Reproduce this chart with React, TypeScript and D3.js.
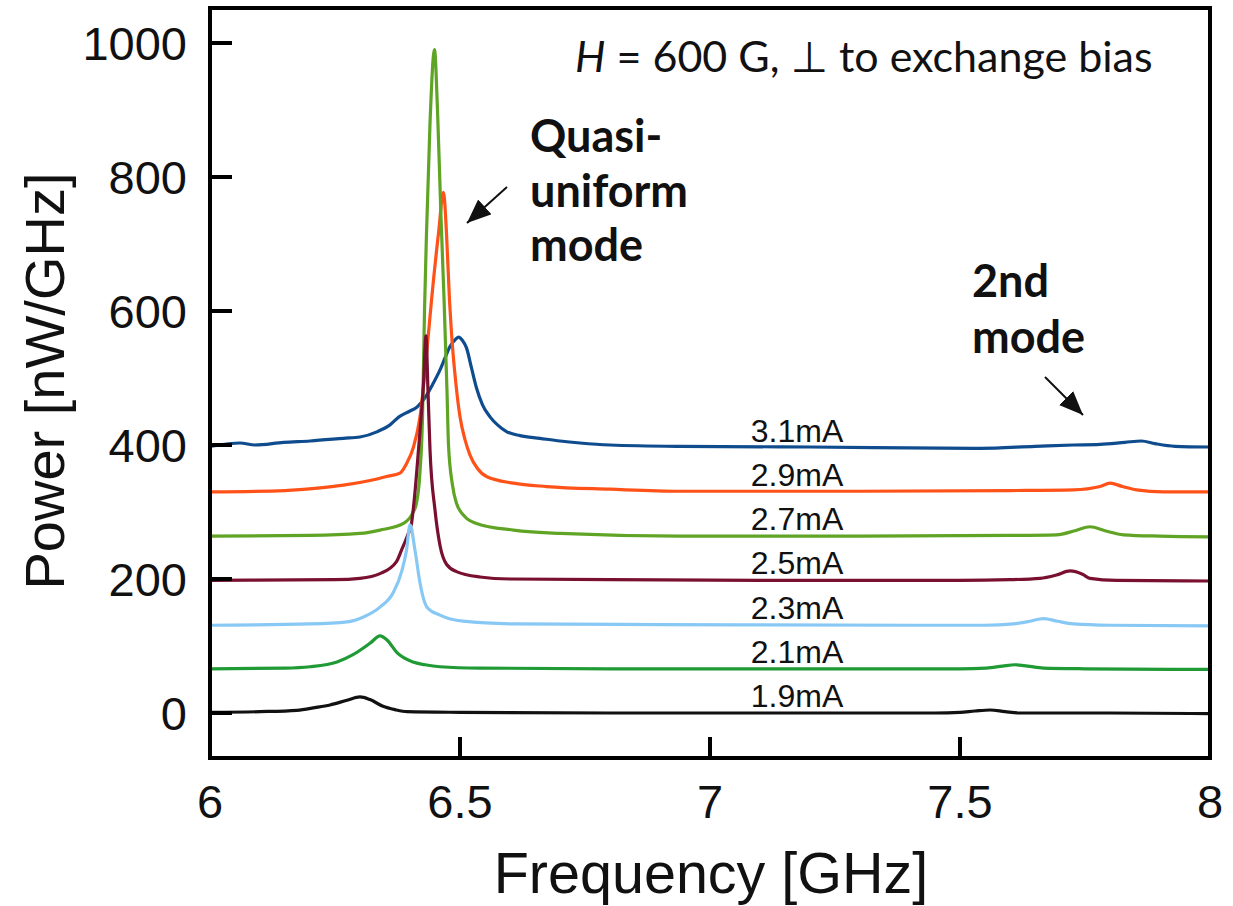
import React from "react";
import * as d3 from "d3";

// Bias currents, their vertical offsets (nW/GHz) and trace colours
const currents = ["1.9mA", "2.1mA", "2.3mA", "2.5mA", "2.7mA", "2.9mA", "3.1mA"];
const offsets = [0, 66, 132, 198, 264, 330, 396];
const colors = ["#111111", "#1f9a34", "#88c8f5", "#7a1030", "#5fa424", "#ff5219", "#0f4c8e"];

// Spectra: [frequency GHz, power nW/GHz] (offset already included)
const trace19: [number, number][] = [
  [6.0, 1], [6.1, 2], [6.174, 4], [6.21, 8], [6.24, 12], [6.274, 19], [6.3, 24], [6.32, 20],
  [6.346, 10], [6.37, 5], [6.394, 2], [6.5, 1], [6.8, 0], [7.2, 0], [7.45, 0], [7.5, 1],
  [7.53, 3], [7.56, 4.5], [7.59, 2], [7.62, 0], [7.8, 0], [8.0, -1],
];
const trace21: [number, number][] = [
  [6.0, 66], [6.15, 67], [6.2, 69], [6.254, 76], [6.286, 87], [6.32, 104], [6.34, 115],
  [6.354, 109], [6.374, 90], [6.406, 76], [6.43, 72], [6.46, 69], [6.54, 67], [6.8, 66],
  [7.3, 66], [7.5, 66], [7.553, 67], [7.585, 70], [7.61, 72], [7.635, 70], [7.667, 67],
  [7.75, 66], [8.0, 65],
];
const trace23: [number, number][] = [
  [6.0, 131], [6.2, 133], [6.274, 136], [6.306, 143], [6.34, 158], [6.366, 179], [6.384, 213],
  [6.393, 243], [6.4, 281], [6.41, 243], [6.42, 194], [6.434, 158], [6.46, 146], [6.506, 137],
  [6.606, 133], [6.9, 132], [7.4, 131], [7.55, 131], [7.607, 133], [7.64, 137], [7.667, 141],
  [7.695, 137], [7.727, 133], [7.8, 131], [8.0, 130],
];
const trace25: [number, number][] = [
  [6.0, 198], [6.25, 199], [6.3, 201], [6.34, 208], [6.373, 226], [6.383, 243], [6.395, 265],
  [6.403, 283], [6.41, 330], [6.417, 393], [6.427, 492], [6.432, 563], [6.436, 480],
  [6.44, 393], [6.45, 303], [6.46, 250], [6.473, 222], [6.493, 211], [6.54, 203], [6.6, 200],
  [6.8, 199], [7.2, 198], [7.5, 198], [7.6, 199], [7.66, 201], [7.693, 206], [7.72, 212],
  [7.745, 207], [7.76, 201], [7.813, 198], [8.0, 197],
];
const trace27: [number, number][] = [
  [6.0, 264], [6.2, 265], [6.3, 268], [6.34, 273], [6.387, 283], [6.405, 298], [6.413, 313],
  [6.42, 360], [6.425, 440], [6.429, 600], [6.433, 716], [6.44, 880], [6.449, 990],
  [6.455, 900], [6.462, 740], [6.468, 620], [6.474, 480], [6.477, 400], [6.485, 340],
  [6.493, 313], [6.51, 293], [6.533, 283], [6.607, 273], [6.7, 268], [6.94, 264], [7.3, 264],
  [7.6, 265], [7.693, 266], [7.73, 272], [7.76, 278], [7.79, 272], [7.827, 266], [7.9, 264],
  [8.0, 263],
];
const trace29: [number, number][] = [
  [6.0, 330], [6.15, 332], [6.22, 336], [6.267, 340], [6.32, 347], [6.353, 353], [6.38, 358],
  [6.393, 372], [6.407, 397], [6.42, 442], [6.437, 567], [6.443, 616], [6.457, 716],
  [6.467, 777], [6.473, 716], [6.479, 616], [6.483, 567], [6.492, 490], [6.5, 442],
  [6.51, 408], [6.52, 385], [6.535, 365], [6.553, 353], [6.607, 343], [6.673, 338],
  [6.8, 334], [6.94, 331], [7.3, 331], [7.6, 332], [7.727, 333], [7.78, 338], [7.8, 343],
  [7.825, 338], [7.853, 333], [7.907, 330], [8.0, 330],
];
const trace31: [number, number][] = [
  [6.0, 398], [6.03, 401], [6.06, 403], [6.09, 400], [6.147, 404], [6.2, 406], [6.267, 410],
  [6.3, 412], [6.335, 420], [6.36, 430], [6.378, 442], [6.398, 450], [6.413, 456],
  [6.433, 474], [6.445, 490], [6.46, 512], [6.47, 530], [6.48, 547], [6.49, 557],
  [6.497, 561], [6.505, 556], [6.513, 545], [6.523, 515], [6.533, 485], [6.545, 460],
  [6.56, 442], [6.575, 430], [6.593, 420], [6.62, 414], [6.66, 410], [6.7, 406], [6.74, 403],
  [6.8, 400], [6.94, 398], [7.2, 397], [7.54, 395], [7.65, 398], [7.727, 400], [7.78, 401],
  [7.83, 404], [7.863, 406], [7.89, 402], [7.93, 398], [8.0, 397],
];
const traces = [trace19, trace21, trace23, trace25, trace27, trace29, trace31];

const xTicks = [6, 6.5, 7, 7.5, 8];
const yTicks = [0, 200, 400, 600, 800, 1000];

const W = 1233;
const H = 906;
const left = 210;
const right = 1210;
const top = 8;
const bottom = 758;

const sans = "'Liberation Sans', Arial, Helvetica, sans-serif";
const humanist = "Lato, 'Open Sans', 'DejaVu Sans', sans-serif";

export default function App() {
  const x = d3.scaleLinear().domain([6, 8]).range([left, right]);
  const y = d3.scaleLinear().domain([0, 1000]).range([713, 43]);
  const line = d3
    .line<[number, number]>()
    .x((d) => x(d[0]))
    .y((d) => y(d[1]))
    .curve(d3.curveMonotoneX);

  // draw highest trace first so lower ones sit on top
  const order = d3.range(traces.length).reverse();
  const labelX = x(7.174);

  return (
    <svg
      width={W}
      height={H}
      viewBox={`0 0 ${W} ${H}`}
      style={{ position: "absolute", left: 0, top: 0, background: "#fff" }}
    >
      <defs>
        <marker
          id="arrowHead"
          markerUnits="userSpaceOnUse"
          markerWidth={24}
          markerHeight={20}
          viewBox="0 0 24 20"
          refX={24}
          refY={10}
          orient="auto"
        >
          <path d="M0,0 L24,10 L0,20 Z" fill="#111" />
        </marker>
      </defs>

      {order.map((i) => (
        <path
          key={currents[i]}
          d={line(traces[i]) || ""}
          fill="none"
          stroke={colors[i]}
          strokeWidth={3.2}
          strokeLinejoin="round"
        />
      ))}

      {currents.map((c, i) => (
        <text
          key={"lbl" + c}
          x={labelX}
          y={y(offsets[i]) - 6}
          textAnchor="middle"
          fontFamily={sans}
          fontSize={32}
          fill="#111"
        >
          {c}
        </text>
      ))}

      {/* frame */}
      <rect
        x={left}
        y={top}
        width={right - left}
        height={bottom - top}
        fill="none"
        stroke="#000"
        strokeWidth={4}
      />

      {yTicks.map((t) => (
        <g key={"y" + t}>
          <line x1={left} x2={left + 22} y1={y(t)} y2={y(t)} stroke="#000" strokeWidth={4} />
          <text
            x={187}
            y={y(t)}
            dy="0.36em"
            textAnchor="end"
            fontFamily={sans}
            fontSize={47}
            fill="#111"
          >
            {t}
          </text>
        </g>
      ))}

      {xTicks.map((t) => (
        <g key={"x" + t}>
          <line x1={x(t)} x2={x(t)} y1={bottom} y2={bottom - 21} stroke="#000" strokeWidth={4} />
          <text
            x={x(t)}
            y={818}
            textAnchor="middle"
            fontFamily={sans}
            fontSize={47}
            fill="#111"
          >
            {t}
          </text>
        </g>
      ))}

      <text x={711} y={893} textAnchor="middle" fontFamily={sans} fontSize={57.5} fill="#111">
        Frequency [GHz]
      </text>
      <text
        transform="translate(64,381) rotate(-90)"
        textAnchor="middle"
        fontFamily={sans}
        fontSize={56}
        fill="#111"
      >
        Power [nW/GHz]
      </text>

      <text x={575} y={72} fontFamily={humanist} fontSize={43} fill="#111">
        <tspan fontStyle="italic">H</tspan>
        <tspan> = 600 G, </tspan>
        <tspan fontFamily="'DejaVu Sans', sans-serif">⊥</tspan>
        <tspan> to exchange bias</tspan>
      </text>

      <g fontFamily={humanist} fontWeight={700} fontSize={45} fill="#111">
        <text x={530} y={152}>Quasi-</text>
        <text x={530} y={207}>uniform</text>
        <text x={530} y={261}>mode</text>
        <text x={972} y={297}>2nd</text>
        <text x={972} y={353}>mode</text>
      </g>

      <line x1={507} y1={187} x2={467} y2={223} stroke="#111" strokeWidth={2} markerEnd="url(#arrowHead)" />
      <line x1={1045} y1={377} x2={1083} y2={415} stroke="#111" strokeWidth={2} markerEnd="url(#arrowHead)" />
    </svg>
  );
}
